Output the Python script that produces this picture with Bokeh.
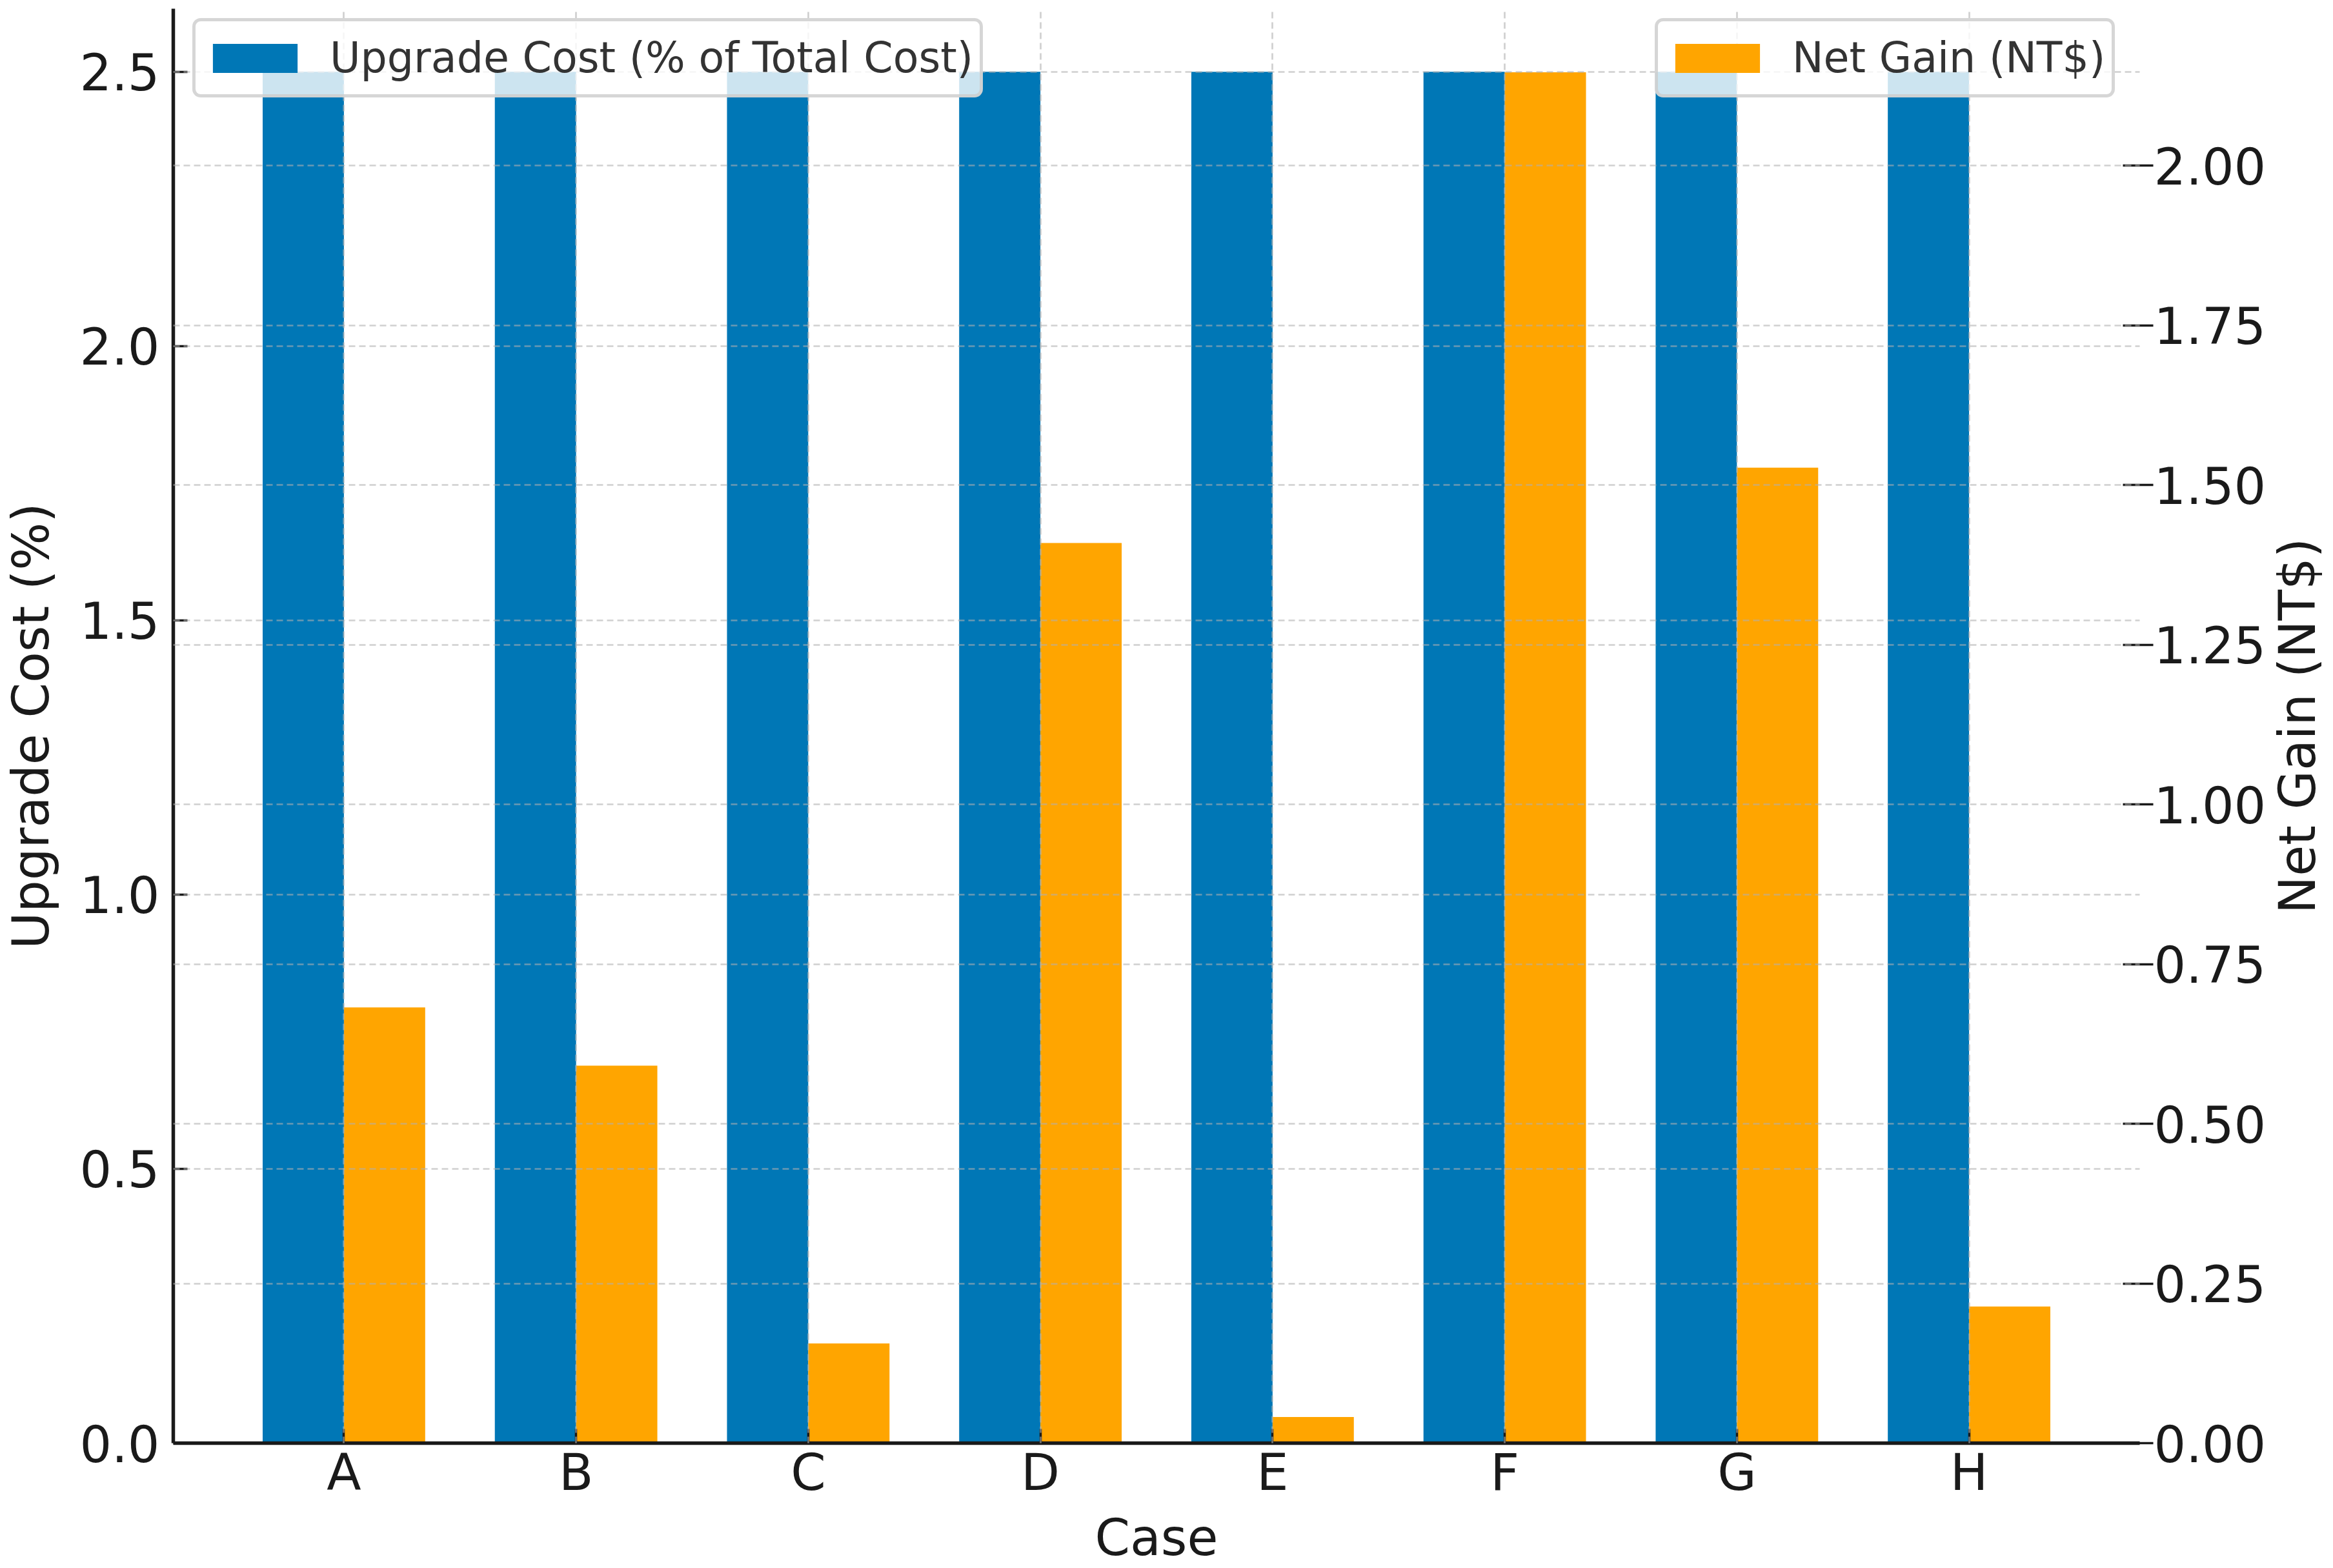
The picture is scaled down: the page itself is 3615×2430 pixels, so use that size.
import math
from bokeh.plotting import figure
from bokeh.models import (ColumnDataSource, FactorRange, Range1d, LinearAxis,
                          FixedTicker, Grid, Legend, LegendItem, Label)
from bokeh.transform import dodge
from bokeh.embed import file_html
from bokeh.resources import INLINE

# ---------------- data ----------------
cases = ["A", "B", "C", "D", "E", "F", "G", "H"]
upgrade_cost = [2.5, 2.5, 2.5, 2.5, 2.5, 2.5, 2.5, 2.5]
net_gain = [0.682, 0.591, 0.156, 1.409, 0.041, 2.146, 1.527, 0.214]

left_ticks = [0.0, 0.5, 1.0, 1.5, 2.0, 2.5]
left_tick_labels = ["0.0", "0.5", "1.0", "1.5", "2.0", "2.5"]
right_ticks = [0.0, 0.25, 0.5, 0.75, 1.0, 1.25, 1.5, 1.75, 2.0]
right_tick_labels = ["0.00", "0.25", "0.50", "0.75", "1.00", "1.25", "1.50", "1.75", "2.00"]
left_axis_max = 2.615
right_axis_max = 2.2455

cost_label = "Upgrade Cost (% of Total Cost)"
gain_label = "Net Gain (NT$)"
x_title = "Case"
left_title = "Upgrade Cost (%)"
right_title = "Net Gain (NT$)"

# ---------------- style ----------------
BLUE = "#0077B6"
ORANGE = "#FFA500"
FONT = "DejaVu Sans"
TICK_SIZE = "78px"
LEG_SIZE = "65px"
TEXT_COLOR = "#1a1a1a"
SPINE_W = 5.5
TICK_W = 3.5

FRAME_W = 3047
FRAME_H = 2223

src = ColumnDataSource(dict(case=cases, cost=upgrade_cost, gain=net_gain))

p = figure(
    x_range=FactorRange(factors=cases, range_padding=0.235, range_padding_units="absolute"),
    y_range=Range1d(0, left_axis_max),
    frame_width=FRAME_W, frame_height=FRAME_H,
    min_border_left=262, min_border_right=296, min_border_top=13, min_border_bottom=186,
    output_backend="svg", toolbar_location=None,
    background_fill_color="white", border_fill_color="white",
)
p.outline_line_color = None
p.extra_y_ranges = {"right": Range1d(0, right_axis_max)}

blue_r = p.vbar(x=dodge("case", -0.175, range=p.x_range), top="cost", width=0.35,
                source=src, fill_color=BLUE, line_color=None)
orange_r = p.vbar(x=dodge("case", 0.175, range=p.x_range), top="gain", width=0.35,
                  source=src, fill_color=ORANGE, line_color=None, y_range_name="right")

left_axis = p.left[0]
bottom_axis = p.below[0]
left_axis.ticker = FixedTicker(ticks=left_ticks)
left_axis.major_label_overrides = dict(zip(left_ticks, left_tick_labels))

right_axis = LinearAxis(y_range_name="right", ticker=FixedTicker(ticks=right_ticks))
right_axis.major_label_overrides = dict(zip(right_ticks, right_tick_labels))
p.add_layout(right_axis, "right")

bottom_axis.axis_label = x_title
left_axis.axis_label = left_title

for ax in (left_axis, bottom_axis, right_axis):
    ax.major_label_text_font = FONT
    ax.major_label_text_font_size = TICK_SIZE
    ax.major_label_text_color = TEXT_COLOR
    ax.axis_label_text_font = FONT
    ax.axis_label_text_font_size = TICK_SIZE
    ax.axis_label_text_font_style = "normal"
    ax.axis_label_text_color = TEXT_COLOR
    ax.minor_tick_line_color = None
    ax.major_tick_line_width = TICK_W
    ax.major_tick_line_color = TEXT_COLOR
    ax.axis_line_width = SPINE_W
    ax.axis_line_color = TEXT_COLOR

bottom_axis.major_tick_in = 22
bottom_axis.major_tick_out = 0
bottom_axis.major_label_standoff = 0
bottom_axis.axis_label_standoff = 8
bottom_axis.major_label_orientation = "horizontal"

left_axis.major_tick_in = 22
left_axis.major_tick_out = 0
left_axis.major_label_standoff = 21
left_axis.axis_label_standoff = 27

right_axis.major_tick_in = 26
right_axis.major_tick_out = 21
right_axis.axis_line_color = None
right_axis.major_label_standoff = 1

# grids (drawn over bars, dashed, light gray)
GRID_COLOR = "#b0b0b0"
GRID_ALPHA = 0.6
GRID_W = 2.7
GRID_DASH = "10 6"

p.xgrid.grid_line_color = GRID_COLOR
p.ygrid.grid_line_color = GRID_COLOR
for g in (p.xgrid[0], p.ygrid[0]):
    g.grid_line_alpha = GRID_ALPHA
    g.grid_line_width = GRID_W
    g.grid_line_dash = GRID_DASH
    g.level = "annotation"

right_grid = Grid(dimension=1, ticker=FixedTicker(ticks=right_ticks), y_range_name="right",
                  grid_line_color=GRID_COLOR, grid_line_alpha=GRID_ALPHA,
                  grid_line_width=GRID_W, grid_line_dash=GRID_DASH)
right_grid.level = "annotation"
p.add_layout(right_grid)

# legends
def make_legend(label, rend, loc):
    lg = Legend(items=[LegendItem(label=label, renderers=[rend])], location=loc)
    lg.margin = 0
    lg.padding = 10
    lg.spacing = 0
    lg.glyph_width = 164
    lg.glyph_height = 56
    lg.label_height = 93
    lg.label_standoff = 34
    lg.label_text_font = FONT
    lg.label_text_font_size = LEG_SIZE
    lg.label_text_color = "#333333"
    lg.background_fill_color = "white"
    lg.background_fill_alpha = 0.8
    lg.border_line_color = "#cccccc"
    lg.border_line_alpha = 0.8
    lg.border_line_width = 5
    if "border_radius" in Legend.properties():
        lg.border_radius = 13
    return lg

LEG_H = 116
leg_bottom = FRAME_H - 22 - LEG_H
p.add_layout(make_legend(cost_label, blue_r, (30, leg_bottom)))
p.add_layout(make_legend(gain_label, orange_r, (2296, leg_bottom)))

# right axis title (reads bottom-to-top), placed in its own panel beside the right axis
right_title_label = Label(x=0, y=FRAME_H / 2, x_units="screen", y_units="screen",
                          text=right_title, angle=math.pi / 2,
                          text_align="center", text_baseline="top",
                          text_font=FONT, text_font_size=TICK_SIZE, text_color=TEXT_COLOR)
p.add_layout(right_title_label, "right")

open("out.html", "w").write(file_html(p, INLINE))
